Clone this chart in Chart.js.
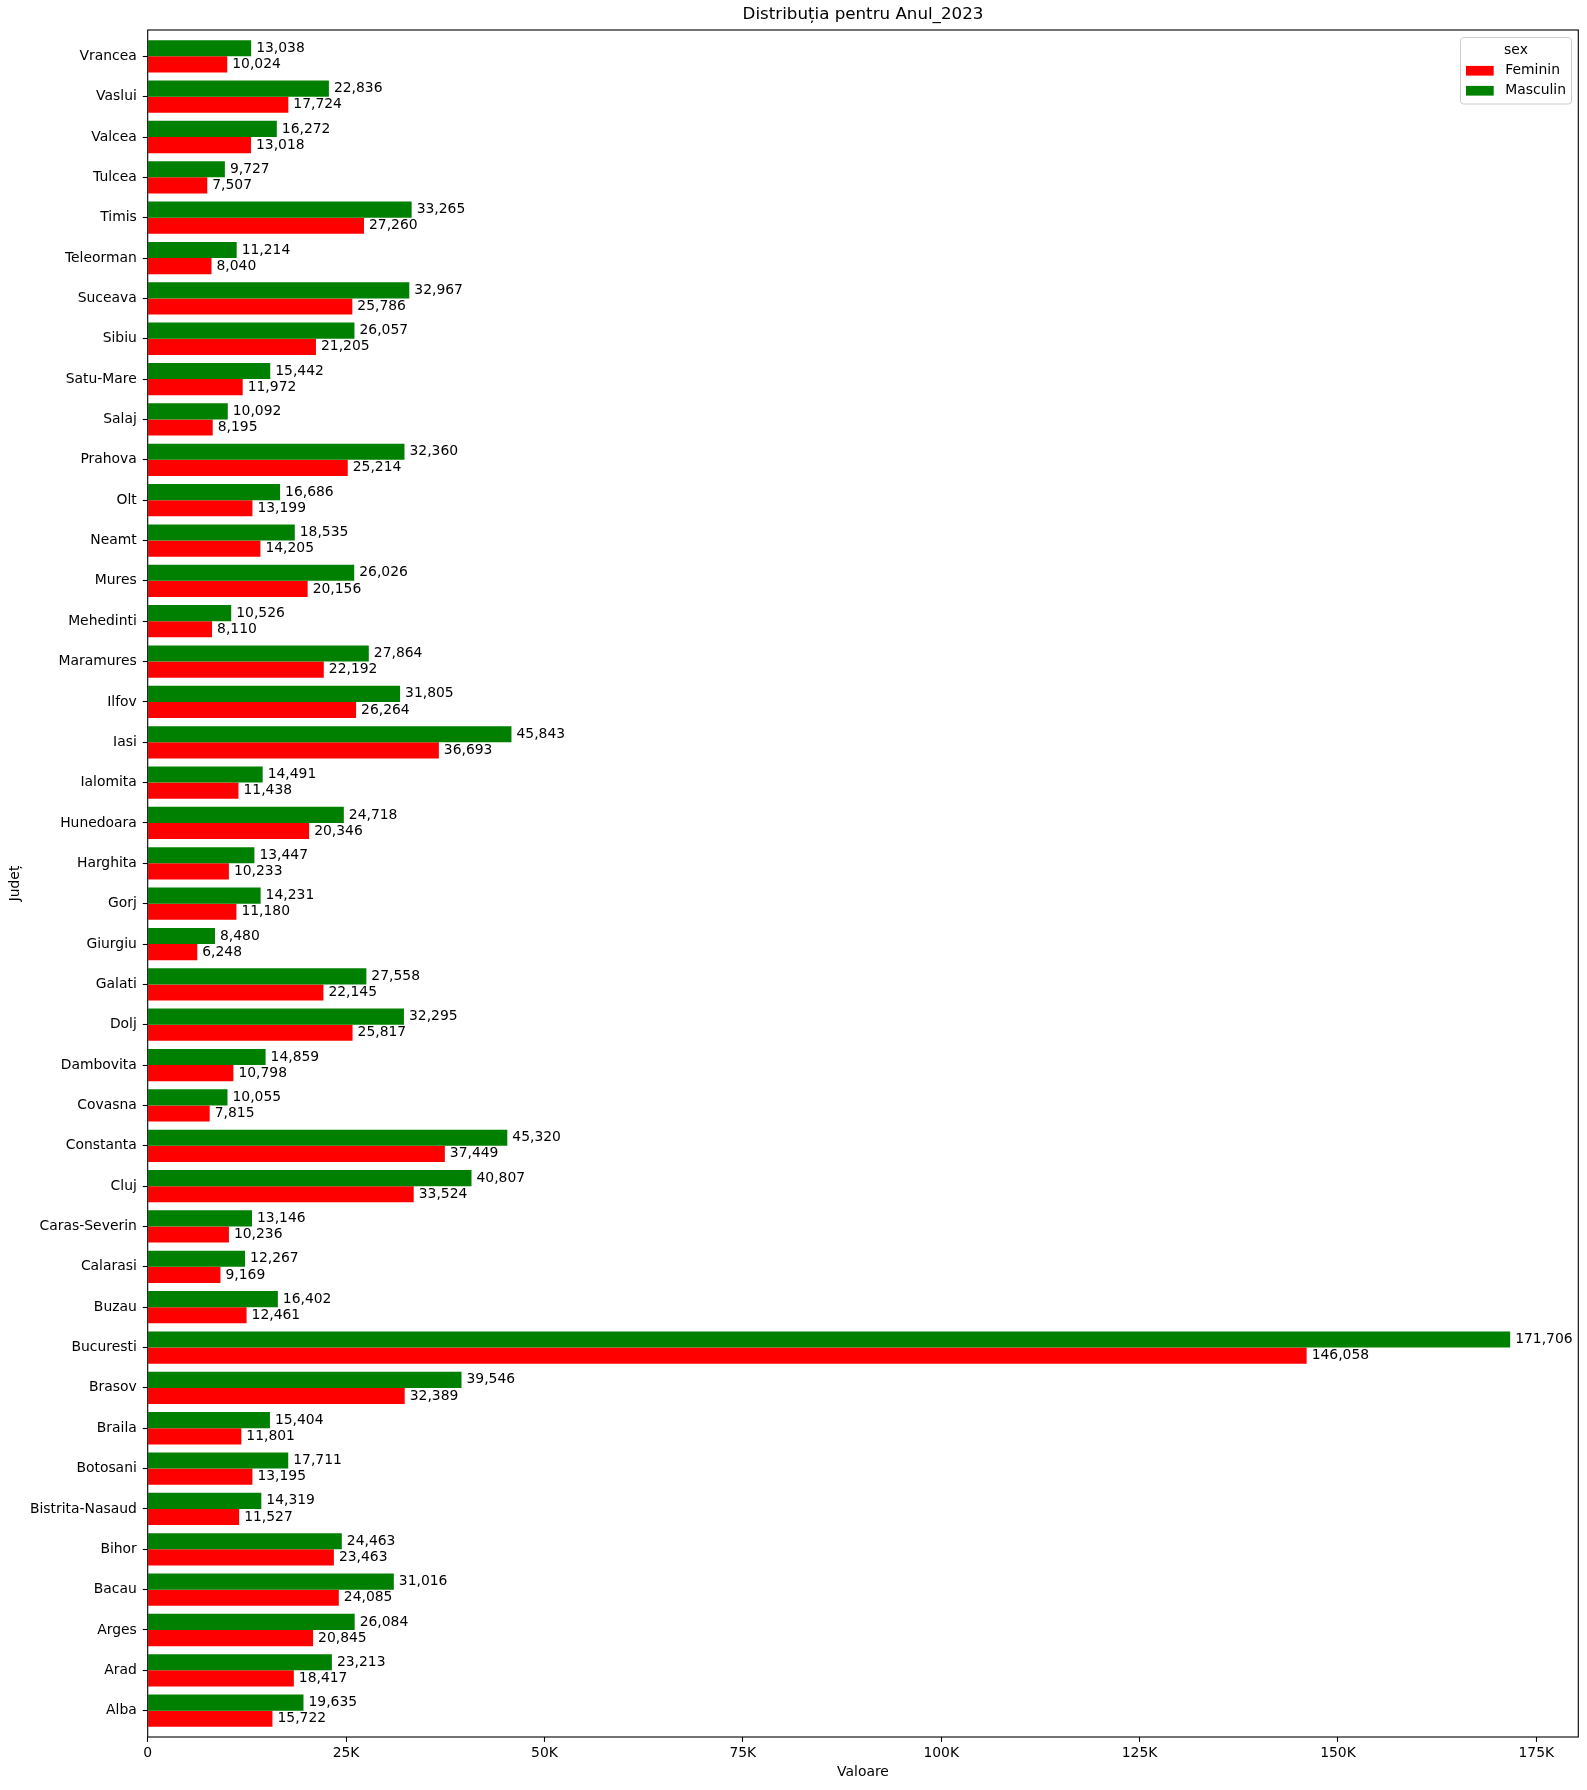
<!DOCTYPE html>
<html>
<head>
<meta charset="utf-8">
<script src="https://cdn.jsdelivr.net/npm/chart.js@4.4.1/dist/chart.umd.min.js"></script>
<style>
  body { margin: 0; background: #fff; }
  #wrap { width: 1587px; height: 1790px; }
</style>
</head>
<body>
<div id="wrap"><canvas id="chart" width="1587" height="1790"></canvas></div>
<script>
// Judete, de jos in sus (ordinea alfabetica)
const judete = ['Alba', 'Arad', 'Arges', 'Bacau', 'Bihor', 'Bistrita-Nasaud', 'Botosani', 'Braila',
    'Brasov', 'Bucuresti', 'Buzau', 'Calarasi', 'Caras-Severin', 'Cluj', 'Constanta', 'Covasna',
    'Dambovita', 'Dolj', 'Galati', 'Giurgiu', 'Gorj', 'Harghita', 'Hunedoara', 'Ialomita', 'Iasi',
    'Ilfov', 'Maramures', 'Mehedinti', 'Mures', 'Neamt', 'Olt', 'Prahova', 'Salaj', 'Satu-Mare',
    'Sibiu', 'Suceava', 'Teleorman', 'Timis', 'Tulcea', 'Valcea', 'Vaslui', 'Vrancea'];

const masculin = [19635, 23213, 26084, 31016, 24463, 14319, 17711, 15404,
    39546, 171706, 16402, 12267, 13146, 40807, 45320, 10055,
    14859, 32295, 27558, 8480, 14231, 13447, 24718, 14491, 45843,
    31805, 27864, 10526, 26026, 18535, 16686, 32360, 10092, 15442,
    26057, 32967, 11214, 33265, 9727, 16272, 22836, 13038];

const feminin = [15722, 18417, 20845, 24085, 23463, 11527, 13195, 11801,
    32389, 146058, 12461, 9169, 10236, 33524, 37449, 7815,
    10798, 25817, 22145, 6248, 11180, 10233, 20346, 11438, 36693,
    26264, 22192, 8110, 20156, 14205, 13199, 25214, 8195, 11972,
    21205, 25786, 8040, 27260, 7507, 13018, 17724, 10024];

const xTicks = [0, 25000, 50000, 75000, 100000, 125000, 150000, 175000];
const xTickLabels = ['0', '25K', '50K', '75K', '100K', '125K', '150K', '175K'];

const FONT = 'DejaVu Sans';
const FS = 13.9;

// Etichete cu valoarea la capatul fiecarei bare
const valueLabels = {
    id: 'valueLabels',
    afterDatasetsDraw(chart) {
        const ctx = chart.ctx;
        ctx.save();
        ctx.font = FS + 'px "' + FONT + '"';
        ctx.fillStyle = '#000';
        ctx.textAlign = 'left';
        ctx.textBaseline = 'middle';
        chart.data.datasets.forEach((ds, di) => {
            chart.getDatasetMeta(di).data.forEach((bar, i) => {
                ctx.fillText(ds.data[i].x.toLocaleString('en-US'), bar.x + 5, bar.y);
            });
        });
        // Cadrul complet al graficului
        const a = chart.chartArea;
        ctx.strokeStyle = '#000';
        ctx.lineWidth = 1.1;
        ctx.strokeRect(a.left, a.top, a.right - a.left, a.bottom - a.top);
        ctx.restore();
    }
};

// Titlu + legenda in stil matplotlib
const decor = {
    id: 'decor',
    afterDraw(chart) {
        const ctx = chart.ctx;
        const a = chart.chartArea;
        ctx.save();
        ctx.fillStyle = '#000';
        ctx.textAlign = 'center';
        ctx.textBaseline = 'middle';
        ctx.font = '16.7px "' + FONT + '"';
        ctx.fillText('Distribuția pentru Anul_2023', (a.left + a.right) / 2, 15);

        // caseta legendei
        const bx = 1460.5, by = 37.5, bw = 111, bh = 66.5;
        ctx.beginPath();
        ctx.roundRect(bx, by, bw, bh, 3);
        ctx.fillStyle = 'rgba(255,255,255,0.8)';
        ctx.fill();
        ctx.strokeStyle = '#cccccc';
        ctx.lineWidth = 1;
        ctx.stroke();

        ctx.font = FS + 'px "' + FONT + '"';
        ctx.fillStyle = '#000';
        ctx.fillText('sex', 1516, 50.5);
        const rows = [['Feminin', 'red'], ['Masculin', 'green']];
        rows.forEach((r, i) => {
            const cy = 70.7 + i * 20;
            ctx.fillStyle = r[1];
            ctx.fillRect(1466, cy - 4.8, 27.7, 9.7);
            ctx.fillStyle = '#000';
            ctx.textAlign = 'left';
            ctx.fillText(r[0], 1505.3, cy);
        });
        ctx.restore();
    }
};

new Chart(document.getElementById('chart'), {
    type: 'bar',
    data: {
        datasets: [
            {
                label: 'Masculin',
                data: masculin.map((v, i) => ({ x: v, y: i })),
                backgroundColor: 'green',
                borderWidth: 0
            },
            {
                label: 'Feminin',
                data: feminin.map((v, i) => ({ x: v, y: i })),
                backgroundColor: 'red',
                borderWidth: 0
            }
        ]
    },
    options: {
        indexAxis: 'y',
        responsive: false,
        animation: false,
        devicePixelRatio: 1,
        categoryPercentage: 0.8,
        barPercentage: 1.0,
        layout: { padding: { top: 30, right: 8.7, left: 0, bottom: 0 } },
        plugins: {
            legend: { display: false },
            tooltip: { enabled: false },
            title: { display: false }
        },
        scales: {
            x: {
                type: 'linear',
                min: 0,
                max: 180291,
                afterBuildTicks: (scale) => { scale.ticks = xTicks.map(v => ({ value: v })); },
                afterFit: (scale) => { scale.height = 53; },
                ticks: {
                    color: '#000',
                    font: { family: FONT, size: FS },
                    padding: 3,
                    maxRotation: 0,
                    autoSkip: false,
                    callback: (v, i) => xTickLabels[i]
                },
                grid: { drawOnChartArea: false, tickLength: 4.9, tickColor: '#000', tickWidth: 1.1 },
                border: { display: false },
                title: {
                    display: true,
                    text: 'Valoare',
                    color: '#000',
                    font: { family: FONT, size: FS },
                    padding: { top: 0, bottom: 9.4 }
                }
            },
            y: {
                type: 'linear',
                min: -0.652,
                max: 41.652,
                offset: false,
                afterBuildTicks: (scale) => { scale.ticks = judete.map((j, i) => ({ value: i })); },
                afterFit: (scale) => { scale.width = 147.7; },
                ticks: {
                    color: '#000',
                    font: { family: FONT, size: FS },
                    padding: 6,
                    autoSkip: false,
                    callback: (v) => judete[v]
                },
                grid: { offset: false, drawOnChartArea: false, tickLength: 4.9, tickColor: '#000', tickWidth: 1.1 },
                border: { display: false },
                title: {
                    display: true,
                    text: 'Județ',
                    color: '#000',
                    font: { family: FONT, size: FS },
                    padding: { top: 6.7, bottom: 0 }
                }
            }
        }
    },
    plugins: [valueLabels, decor]
});
</script>
</body>
</html>
